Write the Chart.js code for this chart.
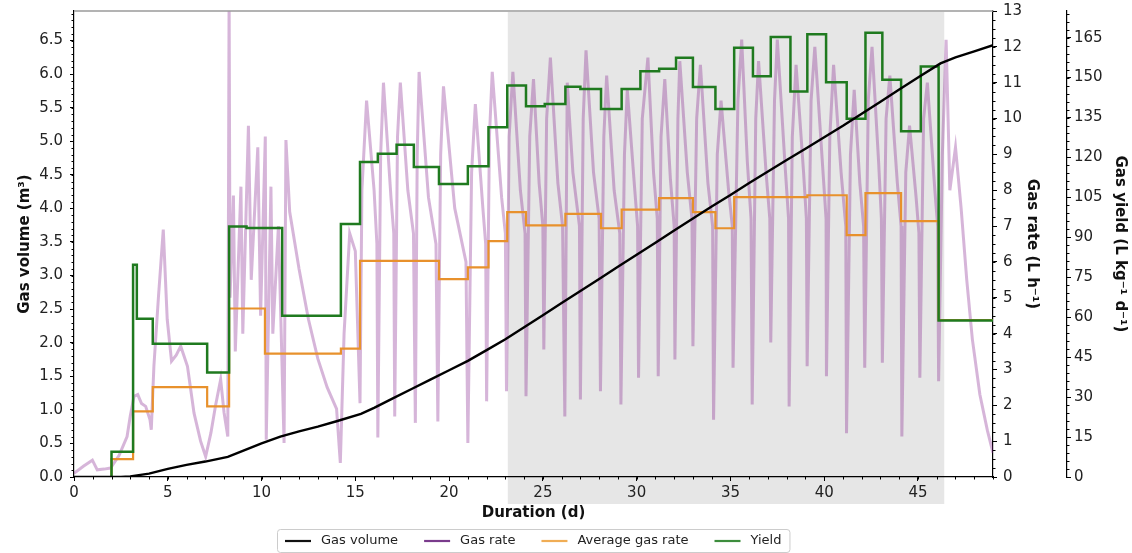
<!DOCTYPE html>
<html>
<head>
<meta charset="utf-8">
<script src="https://cdn.jsdelivr.net/npm/chart.js@4.4.1/dist/chart.umd.min.js"></script>
<style>
  html, body { margin: 0; padding: 0; background: #fff; }
  canvas { display: block; }
</style>
</head>
<body>
<canvas id="gasChart" width="1132" height="553"></canvas>
<script>
// ==========================================
// DATA
// ==========================================

// cumulative gas volume (m3)
const volumeDays = [0, 2.5, 3, 4, 5, 6, 7, 8.2, 9, 10, 11, 12, 13, 14, 15.3, 16, 17, 18, 19, 20, 21, 22, 23, 24, 25, 26, 27, 28, 29, 30, 31, 32, 33, 34, 35, 36, 37, 38, 39, 40, 41, 42, 43, 44, 45, 46.2, 47, 48, 49];
const volumeValues = [0, 0, 0.01, 0.05, 0.12, 0.18, 0.23, 0.30, 0.39, 0.50, 0.60, 0.68, 0.75, 0.83, 0.94, 1.03, 1.17, 1.31, 1.45, 1.59, 1.73, 1.89, 2.05, 2.23, 2.41, 2.59, 2.77, 2.95, 3.13, 3.31, 3.49, 3.67, 3.85, 4.03, 4.20, 4.38, 4.55, 4.72, 4.89, 5.06, 5.23, 5.41, 5.59, 5.77, 5.95, 6.16, 6.25, 6.34, 6.43];

// instantaneous gas rate (L/h)
const rateDays = [
  0, 0.5, 0.98, 1.24, 1.6, 1.95, 2.4, 2.83, 3.0, 3.2, 3.4, 3.6, 3.82, 4.05, 4.12, 4.26, 4.5, 4.76, 4.97, 5.2,
  5.45, 5.69, 6.05, 6.4, 6.75, 7.02, 7.3, 7.55, 7.82, 8.0, 8.2, 8.27, 8.32, 8.5, 8.6, 8.9, 9.0, 9.3, 9.45, 9.8,
  9.95, 10.2, 10.25, 10.5, 10.6, 10.9, 11.2, 11.3, 11.5, 12.0, 12.5, 13.0, 13.5, 14.0, 14.2, 14.4, 14.7, 15.0, 15.25, 15.35,
  15.6, 16.0, 16.15, 16.2, 16.35, 16.5, 16.9, 17.05, 17.1, 17.25, 17.4, 17.8, 18.1, 18.2, 18.3, 18.4, 18.9, 19.3, 19.4, 19.55,
  19.7, 20.3, 20.9, 21.0, 21.2, 21.4, 21.8, 21.95, 22.0, 22.15, 22.3, 22.8, 23.0, 23.06, 23.2, 23.4, 23.8, 24.05, 24.1, 24.3,
  24.5, 24.8, 25.0, 25.05, 25.2, 25.4, 25.8, 26.05, 26.17, 26.3, 26.6, 26.95, 27.0, 27.15, 27.3, 27.7, 28.0, 28.07, 28.25, 28.4,
  28.8, 29.1, 29.16, 29.35, 29.5, 29.9, 30.05, 30.1, 30.3, 30.6, 30.9, 31.1, 31.15, 31.3, 31.5, 31.8, 32.0, 32.04, 32.2, 32.3,
  32.7, 32.95, 33.0, 33.2, 33.4, 33.8, 34.05, 34.1, 34.3, 34.5, 34.9, 35.1, 35.14, 35.4, 35.6, 35.9, 36.1, 36.16, 36.35, 36.5,
  36.9, 37.1, 37.15, 37.35, 37.5, 37.9, 38.1, 38.13, 38.3, 38.5, 38.9, 39.05, 39.09, 39.3, 39.5, 39.9, 40.1, 40.12, 40.3, 40.5,
  40.9, 41.15, 41.19, 41.4, 41.6, 41.9, 42.1, 42.16, 42.35, 42.55, 42.9, 43.05, 43.1, 43.3, 43.5, 43.9, 44.1, 44.14, 44.35, 44.55,
  44.9, 45.05, 45.1, 45.3, 45.5, 45.9, 46.05, 46.1, 46.3, 46.5, 46.7, 47.0, 47.3, 47.6, 47.9, 48.3, 48.7, 49.0
];
const rateValues = [
  0.1, 0.3, 0.47, 0.2, 0.22, 0.25, 0.6, 1.13, 1.7, 2.25, 2.3, 2.05, 1.97, 1.6, 1.32, 3.09, 5.0, 6.9, 4.4, 3.23,
  3.4, 3.65, 3.09, 1.78, 1.0, 0.57, 1.23, 2.0, 2.72, 1.8, 1.13, 13.5, 5.0, 7.85, 3.5, 8.1, 4.0, 9.8, 5.5, 9.2,
  4.5, 9.5, 1.04, 8.1, 4.0, 7.0, 0.95, 9.4, 7.4, 5.8, 4.4, 3.3, 2.5, 1.9, 0.39, 4.0, 6.8, 6.3, 2.06, 8.0,
  10.5, 8.0, 6.5, 1.1, 9.0, 11.0, 7.8, 6.8, 1.69, 9.5, 11.0, 8.0, 6.8, 1.51, 9.0, 11.3, 7.8, 6.5, 1.55, 9.0,
  10.9, 7.5, 6.0, 0.95, 8.5, 10.4, 7.5, 6.5, 2.11, 9.5, 11.3, 7.8, 6.8, 2.39, 9.5, 11.3, 8.0, 6.8, 2.25, 9.5,
  11.1, 8.2, 7.0, 3.56, 10.0, 11.7, 8.2, 7.0, 1.69, 11.0, 8.5, 7.0, 2.16, 10.0, 11.9, 8.5, 7.2, 2.39, 9.5, 11.2,
  8.0, 6.8, 2.02, 9.0, 10.8, 8.0, 7.0, 2.77, 10.0, 11.7, 8.5, 7.2, 2.81, 9.5, 11.1, 8.3, 7.0, 3.28, 10.0, 11.6,
  8.5, 7.2, 3.65, 10.0, 11.5, 8.2, 7.0, 1.6, 9.0, 10.5, 8.0, 7.0, 3.05, 10.5, 12.2, 8.8, 7.2, 2.02, 10.0, 11.6,
  8.5, 7.2, 3.75, 10.5, 12.2, 8.8, 7.2, 1.97, 9.5, 11.5, 8.5, 7.2, 3.09, 10.5, 12.0, 8.8, 7.2, 2.81, 9.5, 11.5,
  8.5, 7.0, 1.22, 9.0, 10.8, 8.2, 7.0, 3.05, 10.5, 12.0, 8.8, 7.2, 3.19, 10.0, 11.2, 8.2, 7.0, 1.13, 8.5, 9.8,
  7.8, 6.8, 2.77, 10.0, 11.0, 8.0, 7.0, 2.67, 9.0, 12.2, 8.0, 9.2, 7.5, 5.5, 3.84, 2.3, 1.3, 0.67
];

// average gas rate per feeding period (L/h), step starts
const avgRateDays = [2.0, 2.0, 3.15, 4.2, 7.1, 8.27, 10.18, 14.23, 15.25, 19.46, 21.0, 22.1, 23.1, 24.1, 26.2, 28.1, 29.2, 31.2, 33.0, 34.2, 35.2, 39.1, 41.2, 42.2, 44.1, 46.1, 49.0];
const avgRateValues = [0, 0.5, 1.83, 2.51, 1.97, 4.7, 3.44, 3.58, 6.03, 5.52, 5.85, 6.58, 7.39, 7.02, 7.34, 6.94, 7.46, 7.78, 7.39, 6.94, 7.81, 7.86, 6.75, 7.92, 7.14, 4.38, 4.38];

// gas yield per feeding period (L/kg/d), step starts
const yieldDays = [2.0, 2.0, 3.15, 3.35, 4.2, 7.1, 8.27, 9.2, 11.1, 14.23, 15.25, 16.2, 17.2, 18.12, 19.46, 21.0, 22.1, 23.1, 24.1, 25.1, 26.2, 27.0, 28.1, 29.2, 30.2, 31.2, 32.1, 33.0, 34.2, 35.2, 36.2, 37.15, 38.2, 39.1, 40.1, 41.2, 42.2, 43.1, 44.1, 45.15, 46.1, 49.0];
const yieldValues = [0, 9.5, 79.7, 59.4, 50.0, 39.2, 94.1, 93.5, 60.6, 95.0, 118.3, 121.4, 124.8, 116.4, 110.0, 116.7, 131.3, 147.0, 139.2, 140.1, 146.6, 145.7, 138.2, 145.7, 152.4, 153.3, 157.4, 146.5, 138.2, 161.2, 150.5, 165.2, 144.8, 166.3, 148.2, 134.5, 166.8, 149.2, 129.8, 154.2, 58.8, 58.8];

// steady-state period shaded in grey (days)
const steadyPeriod = [23.13, 46.4];

const seriesLabels = ["Gas volume", "Gas rate", "Average gas rate", "Yield"];

// ==========================================
// HELPERS / PLUGINS
// ==========================================

function toPoints(xs, ys) {
  return xs.map((x, i) => ({ x: x, y: ys[i] }));
}

const FONT = "'DejaVu Sans', 'Liberation Sans', sans-serif";
const legendSwatches = ["#111111", "#7a3b8c", "#f0ad55", "#3d8d3d"];

// white page + grey span (drawn before scales, reaches under the tick labels)
const shadePlugin = {
  id: "shade",
  beforeDraw(chart) {
    const { ctx, chartArea, scales } = chart;
    ctx.save();
    ctx.fillStyle = "#ffffff";
    ctx.fillRect(0, 0, chart.width, chart.height);
    const x0 = scales.x.getPixelForValue(steadyPeriod[0]);
    const x1 = scales.x.getPixelForValue(steadyPeriod[1]);
    ctx.fillStyle = "#e6e6e6";
    ctx.fillRect(x0, chartArea.top + 1, x1 - x0, chartArea.bottom - chartArea.top + 26);
    ctx.restore();
  },
};

// minor ticks, top spine and the framed legend under the axis
const decorPlugin = {
  id: "decor",
  afterDraw(chart) {
    const { ctx, chartArea, scales } = chart;
    ctx.save();
    ctx.strokeStyle = "#000";
    ctx.lineWidth = 1;

    const minor = { x: 1, yVol: 0.1, yRate: 0.25, yYield: 3 };
    Object.keys(minor).forEach((id) => {
      const s = scales[id];
      const step = minor[id];
      ctx.beginPath();
      for (let v = s.min; v <= s.max + 1e-9; v += step) {
        const p = Math.round(s.getPixelForValue(v)) + 0.5;
        if (id === "x") {
          ctx.moveTo(p, s.top);
          ctx.lineTo(p, s.top + 2.5);
        } else if (id === "yVol") {
          ctx.moveTo(s.right, p);
          ctx.lineTo(s.right - 2.5, p);
        } else {
          ctx.moveTo(s.left, p);
          ctx.lineTo(s.left + 2.5, p);
        }
      }
      ctx.stroke();
    });

    // top spine
    ctx.strokeStyle = "#9a9a9a";
    ctx.lineWidth = 1.5;
    ctx.beginPath();
    ctx.moveTo(chartArea.left, chartArea.top);
    ctx.lineTo(chartArea.right, chartArea.top);
    ctx.stroke();

    // legend (matplotlib style: line handle, text, column spacing)
    const handle = 26, textPad = 10, colGap = 26, boxPad = 8;
    ctx.font = "13px " + FONT;
    const widths = seriesLabels.map((t) => ctx.measureText(t).width);
    const total = widths.reduce((a, w) => a + w + handle + textPad, 0) + colGap * (seriesLabels.length - 1);
    const boxW = total + boxPad * 2;
    const boxLeft = Math.round((chartArea.left + chartArea.right) / 2 - boxW / 2);
    const boxTop = 529, boxH = 23, midY = 541;

    ctx.strokeStyle = "#cccccc";
    ctx.lineWidth = 1;
    ctx.beginPath();
    ctx.roundRect(boxLeft + 0.5, boxTop + 0.5, boxW, boxH, 3);
    ctx.stroke();

    let cx = boxLeft + boxPad;
    ctx.textBaseline = "middle";
    ctx.textAlign = "left";
    seriesLabels.forEach((t, i) => {
      ctx.strokeStyle = legendSwatches[i];
      ctx.lineWidth = 2.2;
      ctx.beginPath();
      ctx.moveTo(cx, midY);
      ctx.lineTo(cx + handle, midY);
      ctx.stroke();
      cx += handle + textPad;
      ctx.fillStyle = "#222";
      ctx.fillText(t, cx, midY);
      cx += widths[i] + colGap;
    });
    ctx.restore();
  },
};

function axisTicks(extra) {
  return Object.assign({ font: { family: FONT, size: 15 }, color: "#222", includeBounds: false }, extra);
}

function axisTitle(text, padding) {
  return { display: true, text: text, color: "#111", font: { family: FONT, size: 15, weight: "bold" }, padding: padding };
}

// fixed axis boxes so the plot area lands where the original one is
function fixWidth(w) {
  return (s) => {
    s.width = w;
    s.paddingTop = 0;
    s.paddingBottom = 0;
  };
}

const axisGrid = { drawOnChartArea: false, drawTicks: true, tickLength: 4, color: "#000" };
const axisBorder = { display: true, color: "#000", width: 1.2 };

// ==========================================
// CHART
// ==========================================

const ctx = document.getElementById("gasChart").getContext("2d");

new Chart(ctx, {
  type: "line",
  data: {
    datasets: [
      {
        label: seriesLabels[0],
        data: toPoints(volumeDays, volumeValues),
        yAxisID: "yVol",
        borderColor: "#000",
        borderWidth: 2.4,
        order: 0,
      },
      {
        label: seriesLabels[1],
        data: toPoints(rateDays, rateValues),
        yAxisID: "yRate",
        borderColor: "rgba(130, 30, 140, 0.33)",
        borderWidth: 3,
        order: 3,
      },
      {
        label: seriesLabels[2],
        data: toPoints(avgRateDays, avgRateValues),
        yAxisID: "yRate",
        borderColor: "#e8912c",
        borderWidth: 2.2,
        stepped: "before",
        order: 2,
      },
      {
        label: seriesLabels[3],
        data: toPoints(yieldDays, yieldValues),
        yAxisID: "yYield",
        borderColor: "#1f7a1f",
        borderWidth: 2.5,
        stepped: "before",
        order: 1,
      },
    ],
  },
  options: {
    responsive: false,
    animation: false,
    parsing: false,
    normalized: true,
    layout: { padding: { top: 11, left: 0, right: 0, bottom: 26 } },
    elements: {
      point: { radius: 0 },
      line: { tension: 0, fill: false, borderJoinStyle: "miter" },
    },
    plugins: {
      tooltip: { enabled: false },
      legend: { display: false },
    },
    scales: {
      x: {
        type: "linear",
        position: "bottom",
        min: 0,
        max: 49,
        ticks: axisTicks({ stepSize: 5, padding: 3, maxRotation: 0 }),
        grid: axisGrid,
        border: axisBorder,
        title: axisTitle("Duration (d)", { top: 0, bottom: 5 }),
        afterFit: (s) => {
          s.height = 50;
          s.paddingLeft = 0;
          s.paddingRight = 0;
        },
      },
      yVol: {
        type: "linear",
        position: "left",
        min: 0,
        max: 6.94,
        ticks: axisTicks({ stepSize: 0.5, padding: 7, callback: (v) => v.toFixed(1) }),
        grid: axisGrid,
        border: axisBorder,
        title: axisTitle("Gas volume (m³)", { top: 16, bottom: 0 }),
        afterFit: fixWidth(74),
      },
      yRate: {
        type: "linear",
        position: "right",
        weight: 0,
        min: 0,
        max: 13,
        ticks: axisTicks({ stepSize: 1, padding: 6 }),
        grid: axisGrid,
        border: axisBorder,
        title: axisTitle("Gas rate (L h⁻¹)", { top: 26, bottom: 0 }),
        afterFit: fixWidth(74),
      },
      yYield: {
        type: "linear",
        position: "right",
        weight: 1,
        min: 0,
        max: 175,
        ticks: axisTicks({ stepSize: 15, padding: 3 }),
        grid: axisGrid,
        border: axisBorder,
        title: axisTitle("Gas yield (L kg⁻¹ d⁻¹)", { top: 3, bottom: 0 }),
        afterFit: fixWidth(65),
      },
    },
  },
  plugins: [shadePlugin, decorPlugin],
});
</script>
</body>
</html>
